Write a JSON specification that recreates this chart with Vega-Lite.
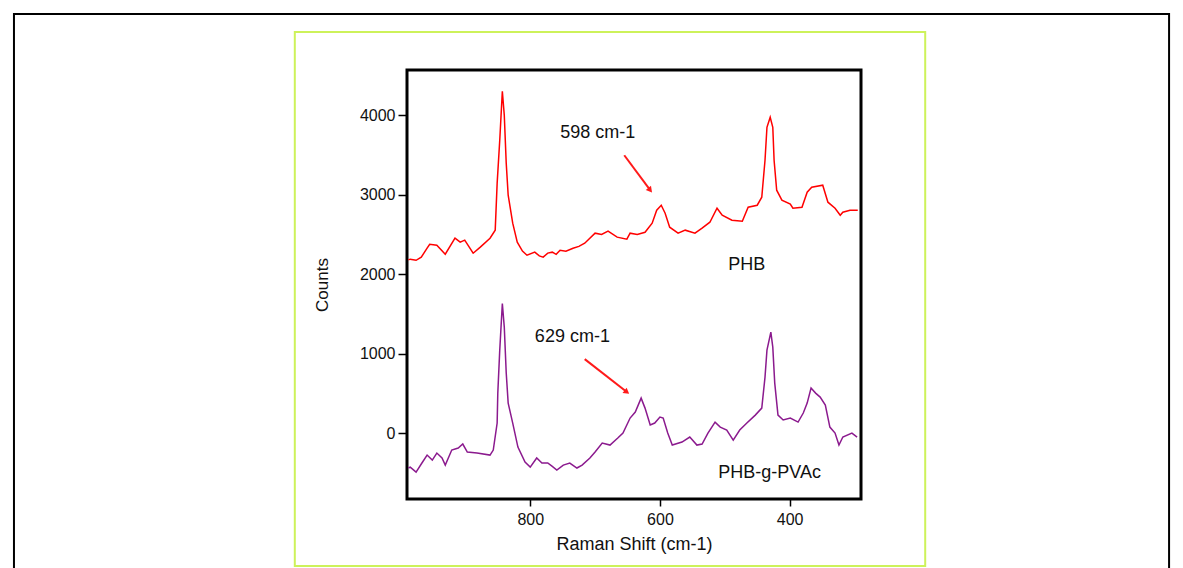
{
  "$schema": "https://vega.github.io/schema/vega-lite/v6.json",
  "autosize": {"type": "none"},
  "width": 454,
  "height": 429,
  "padding": {"left": 407, "top": 70, "right": 322, "bottom": 69},
  "background": "white",
  "config": {
    "view": {"stroke": "#000000", "strokeWidth": 3},
    "font": "Liberation Sans"
  },
  "datasets": {
    "spectra": [
      {"sample": "PHB", "shift": 988, "counts": 2180},
      {"sample": "PHB", "shift": 985, "counts": 2189},
      {"sample": "PHB", "shift": 976, "counts": 2175},
      {"sample": "PHB", "shift": 968, "counts": 2214},
      {"sample": "PHB", "shift": 959, "counts": 2327},
      {"sample": "PHB", "shift": 955, "counts": 2377},
      {"sample": "PHB", "shift": 944, "counts": 2365},
      {"sample": "PHB", "shift": 931, "counts": 2252},
      {"sample": "PHB", "shift": 916, "counts": 2453},
      {"sample": "PHB", "shift": 908, "counts": 2403},
      {"sample": "PHB", "shift": 901, "counts": 2428},
      {"sample": "PHB", "shift": 888, "counts": 2264},
      {"sample": "PHB", "shift": 877, "counts": 2340},
      {"sample": "PHB", "shift": 862, "counts": 2453},
      {"sample": "PHB", "shift": 854, "counts": 2554},
      {"sample": "PHB", "shift": 851, "counts": 3145},
      {"sample": "PHB", "shift": 847, "counts": 3686},
      {"sample": "PHB", "shift": 843, "counts": 4302},
      {"sample": "PHB", "shift": 840, "counts": 4000},
      {"sample": "PHB", "shift": 837, "counts": 3396},
      {"sample": "PHB", "shift": 834, "counts": 2994},
      {"sample": "PHB", "shift": 827, "counts": 2642},
      {"sample": "PHB", "shift": 820, "counts": 2403},
      {"sample": "PHB", "shift": 812, "counts": 2290},
      {"sample": "PHB", "shift": 805, "counts": 2239},
      {"sample": "PHB", "shift": 793, "counts": 2277},
      {"sample": "PHB", "shift": 786, "counts": 2230},
      {"sample": "PHB", "shift": 780, "counts": 2214},
      {"sample": "PHB", "shift": 773, "counts": 2265},
      {"sample": "PHB", "shift": 766, "counts": 2277},
      {"sample": "PHB", "shift": 760, "counts": 2250},
      {"sample": "PHB", "shift": 754, "counts": 2302},
      {"sample": "PHB", "shift": 745, "counts": 2290},
      {"sample": "PHB", "shift": 734, "counts": 2327},
      {"sample": "PHB", "shift": 725, "counts": 2350},
      {"sample": "PHB", "shift": 716, "counts": 2390},
      {"sample": "PHB", "shift": 700, "counts": 2516},
      {"sample": "PHB", "shift": 690, "counts": 2500},
      {"sample": "PHB", "shift": 680, "counts": 2541},
      {"sample": "PHB", "shift": 666, "counts": 2466},
      {"sample": "PHB", "shift": 651, "counts": 2440},
      {"sample": "PHB", "shift": 646, "counts": 2516},
      {"sample": "PHB", "shift": 635, "counts": 2500},
      {"sample": "PHB", "shift": 623, "counts": 2528},
      {"sample": "PHB", "shift": 612, "counts": 2642},
      {"sample": "PHB", "shift": 605, "counts": 2805},
      {"sample": "PHB", "shift": 598, "counts": 2868},
      {"sample": "PHB", "shift": 592, "counts": 2767},
      {"sample": "PHB", "shift": 585, "counts": 2591},
      {"sample": "PHB", "shift": 572, "counts": 2516},
      {"sample": "PHB", "shift": 561, "counts": 2554},
      {"sample": "PHB", "shift": 546, "counts": 2516},
      {"sample": "PHB", "shift": 535, "counts": 2579},
      {"sample": "PHB", "shift": 523, "counts": 2654},
      {"sample": "PHB", "shift": 512, "counts": 2830},
      {"sample": "PHB", "shift": 504, "counts": 2742},
      {"sample": "PHB", "shift": 489, "counts": 2679},
      {"sample": "PHB", "shift": 473, "counts": 2667},
      {"sample": "PHB", "shift": 464, "counts": 2843},
      {"sample": "PHB", "shift": 450, "counts": 2868},
      {"sample": "PHB", "shift": 443, "counts": 2969},
      {"sample": "PHB", "shift": 438, "counts": 3434},
      {"sample": "PHB", "shift": 435, "counts": 3849},
      {"sample": "PHB", "shift": 430, "counts": 3975},
      {"sample": "PHB", "shift": 426, "counts": 3849},
      {"sample": "PHB", "shift": 424, "counts": 3434},
      {"sample": "PHB", "shift": 420, "counts": 3057},
      {"sample": "PHB", "shift": 412, "counts": 2931},
      {"sample": "PHB", "shift": 399, "counts": 2881},
      {"sample": "PHB", "shift": 395, "counts": 2830},
      {"sample": "PHB", "shift": 381, "counts": 2843},
      {"sample": "PHB", "shift": 373, "counts": 3032},
      {"sample": "PHB", "shift": 366, "counts": 3094},
      {"sample": "PHB", "shift": 349, "counts": 3120},
      {"sample": "PHB", "shift": 341, "counts": 2906},
      {"sample": "PHB", "shift": 330, "counts": 2830},
      {"sample": "PHB", "shift": 322, "counts": 2742},
      {"sample": "PHB", "shift": 318, "counts": 2780},
      {"sample": "PHB", "shift": 307, "counts": 2805},
      {"sample": "PHB", "shift": 295, "counts": 2805},
      {"sample": "PHB-g-PVAc", "shift": 988, "counts": -440},
      {"sample": "PHB-g-PVAc", "shift": 985, "counts": -428},
      {"sample": "PHB-g-PVAc", "shift": 976, "counts": -491},
      {"sample": "PHB-g-PVAc", "shift": 967, "counts": -377},
      {"sample": "PHB-g-PVAc", "shift": 959, "counts": -277},
      {"sample": "PHB-g-PVAc", "shift": 951, "counts": -340},
      {"sample": "PHB-g-PVAc", "shift": 944, "counts": -252},
      {"sample": "PHB-g-PVAc", "shift": 936, "counts": -314},
      {"sample": "PHB-g-PVAc", "shift": 931, "counts": -403},
      {"sample": "PHB-g-PVAc", "shift": 921, "counts": -214},
      {"sample": "PHB-g-PVAc", "shift": 911, "counts": -189},
      {"sample": "PHB-g-PVAc", "shift": 904, "counts": -138},
      {"sample": "PHB-g-PVAc", "shift": 897, "counts": -239},
      {"sample": "PHB-g-PVAc", "shift": 882, "counts": -252},
      {"sample": "PHB-g-PVAc", "shift": 862, "counts": -277},
      {"sample": "PHB-g-PVAc", "shift": 857, "counts": -214},
      {"sample": "PHB-g-PVAc", "shift": 851, "counts": 126},
      {"sample": "PHB-g-PVAc", "shift": 850, "counts": 503},
      {"sample": "PHB-g-PVAc", "shift": 847, "counts": 1044},
      {"sample": "PHB-g-PVAc", "shift": 843, "counts": 1630},
      {"sample": "PHB-g-PVAc", "shift": 840, "counts": 1333},
      {"sample": "PHB-g-PVAc", "shift": 837, "counts": 755},
      {"sample": "PHB-g-PVAc", "shift": 834, "counts": 377},
      {"sample": "PHB-g-PVAc", "shift": 827, "counts": 126},
      {"sample": "PHB-g-PVAc", "shift": 819, "counts": -176},
      {"sample": "PHB-g-PVAc", "shift": 808, "counts": -365},
      {"sample": "PHB-g-PVAc", "shift": 800, "counts": -428},
      {"sample": "PHB-g-PVAc", "shift": 790, "counts": -314},
      {"sample": "PHB-g-PVAc", "shift": 782, "counts": -377},
      {"sample": "PHB-g-PVAc", "shift": 773, "counts": -377},
      {"sample": "PHB-g-PVAc", "shift": 766, "counts": -420},
      {"sample": "PHB-g-PVAc", "shift": 759, "counts": -465},
      {"sample": "PHB-g-PVAc", "shift": 749, "counts": -403},
      {"sample": "PHB-g-PVAc", "shift": 739, "counts": -377},
      {"sample": "PHB-g-PVAc", "shift": 728, "counts": -440},
      {"sample": "PHB-g-PVAc", "shift": 720, "counts": -403},
      {"sample": "PHB-g-PVAc", "shift": 708, "counts": -314},
      {"sample": "PHB-g-PVAc", "shift": 700, "counts": -239},
      {"sample": "PHB-g-PVAc", "shift": 689, "counts": -126},
      {"sample": "PHB-g-PVAc", "shift": 677, "counts": -151},
      {"sample": "PHB-g-PVAc", "shift": 665, "counts": -63},
      {"sample": "PHB-g-PVAc", "shift": 657, "counts": 0},
      {"sample": "PHB-g-PVAc", "shift": 646, "counts": 189},
      {"sample": "PHB-g-PVAc", "shift": 638, "counts": 264},
      {"sample": "PHB-g-PVAc", "shift": 629, "counts": 440},
      {"sample": "PHB-g-PVAc", "shift": 623, "counts": 314},
      {"sample": "PHB-g-PVAc", "shift": 615, "counts": 101},
      {"sample": "PHB-g-PVAc", "shift": 608, "counts": 126},
      {"sample": "PHB-g-PVAc", "shift": 600, "counts": 201},
      {"sample": "PHB-g-PVAc", "shift": 595, "counts": 189},
      {"sample": "PHB-g-PVAc", "shift": 588, "counts": 0},
      {"sample": "PHB-g-PVAc", "shift": 581, "counts": -151},
      {"sample": "PHB-g-PVAc", "shift": 566, "counts": -113},
      {"sample": "PHB-g-PVAc", "shift": 554, "counts": -50},
      {"sample": "PHB-g-PVAc", "shift": 543, "counts": -151},
      {"sample": "PHB-g-PVAc", "shift": 535, "counts": -138},
      {"sample": "PHB-g-PVAc", "shift": 526, "counts": 0},
      {"sample": "PHB-g-PVAc", "shift": 515, "counts": 138},
      {"sample": "PHB-g-PVAc", "shift": 507, "counts": 75},
      {"sample": "PHB-g-PVAc", "shift": 497, "counts": 38},
      {"sample": "PHB-g-PVAc", "shift": 487, "counts": -88},
      {"sample": "PHB-g-PVAc", "shift": 477, "counts": 38},
      {"sample": "PHB-g-PVAc", "shift": 466, "counts": 126},
      {"sample": "PHB-g-PVAc", "shift": 453, "counts": 226},
      {"sample": "PHB-g-PVAc", "shift": 443, "counts": 314},
      {"sample": "PHB-g-PVAc", "shift": 438, "counts": 704},
      {"sample": "PHB-g-PVAc", "shift": 435, "counts": 1044},
      {"sample": "PHB-g-PVAc", "shift": 429, "counts": 1270},
      {"sample": "PHB-g-PVAc", "shift": 426, "counts": 1082},
      {"sample": "PHB-g-PVAc", "shift": 423, "counts": 629},
      {"sample": "PHB-g-PVAc", "shift": 418, "counts": 226},
      {"sample": "PHB-g-PVAc", "shift": 410, "counts": 164},
      {"sample": "PHB-g-PVAc", "shift": 399, "counts": 189},
      {"sample": "PHB-g-PVAc", "shift": 387, "counts": 138},
      {"sample": "PHB-g-PVAc", "shift": 379, "counts": 252},
      {"sample": "PHB-g-PVAc", "shift": 373, "counts": 377},
      {"sample": "PHB-g-PVAc", "shift": 367, "counts": 566},
      {"sample": "PHB-g-PVAc", "shift": 360, "counts": 503},
      {"sample": "PHB-g-PVAc", "shift": 353, "counts": 453},
      {"sample": "PHB-g-PVAc", "shift": 345, "counts": 352},
      {"sample": "PHB-g-PVAc", "shift": 338, "counts": 75},
      {"sample": "PHB-g-PVAc", "shift": 330, "counts": 0},
      {"sample": "PHB-g-PVAc", "shift": 324, "counts": -151},
      {"sample": "PHB-g-PVAc", "shift": 318, "counts": -50},
      {"sample": "PHB-g-PVAc", "shift": 304, "counts": 0},
      {"sample": "PHB-g-PVAc", "shift": 296, "counts": -50}
    ],
    "arrows": [
      {"arrow": "598", "part": "tail", "shift": 655, "counts": 3497},
      {"arrow": "598", "part": "head", "shift": 615, "counts": 3057},
      {"arrow": "629", "part": "tail", "shift": 716, "counts": 931},
      {"arrow": "629", "part": "head", "shift": 651, "counts": 516}
    ],
    "labels": [
      {"label": "598 cm-1", "shift": 696, "counts": 3714},
      {"label": "629 cm-1", "shift": 735, "counts": 1146},
      {"label": "PHB", "shift": 466, "counts": 2053},
      {"label": "PHB-g-PVAc", "shift": 431, "counts": -565}
    ],
    "frame": [{"name": "frame"}]
  },
  "layer": [
    {
      "data": {"name": "frame"},
      "mark": {"type": "rect", "filled": false, "stroke": "#000000", "strokeWidth": 2, "clip": false},
      "encoding": {
        "x": {"datum": 1596, "type": "quantitative", "scale": {"domain": [290, 990], "reverse": true, "nice": false, "zero": false}},
        "x2": {"datum": -185},
        "y": {"datum": 5275, "type": "quantitative", "scale": {"domain": [-830, 4570], "nice": false, "zero": false}},
        "y2": {"datum": -2600}
      }
    },
    {
      "data": {"name": "frame"},
      "mark": {"type": "rect", "filled": false, "stroke": "#cdf25a", "strokeWidth": 2, "clip": false},
      "encoding": {
        "x": {"datum": 1163, "type": "quantitative"},
        "x2": {"datum": 191},
        "y": {"datum": 5048, "type": "quantitative"},
        "y2": {"datum": -1673}
      }
    },
    {
      "data": {"name": "spectra"},
      "mark": {"type": "line", "strokeWidth": 1.5, "interpolate": "linear"},
      "encoding": {
        "x": {
          "field": "shift", "type": "quantitative",
          "scale": {"domain": [290, 990], "reverse": true, "nice": false, "zero": false},
          "axis": {
            "values": [800, 600, 400], "format": "d", "grid": false, "domain": false,
            "tickColor": "#000000", "tickSize": 7, "tickWidth": 1.5,
            "labelFont": "Liberation Sans", "labelFontSize": 16, "labelColor": "#111111", "labelPadding": 5,
            "title": "Raman Shift (cm-1)", "titleFont": "Liberation Sans", "titleFontSize": 18,
            "titleFontWeight": "normal", "titleColor": "#111111", "titlePadding": 8
          }
        },
        "y": {
          "field": "counts", "type": "quantitative",
          "scale": {"domain": [-830, 4570], "nice": false, "zero": false},
          "axis": {
            "values": [0, 1000, 2000, 3000, 4000], "format": "d", "grid": false, "domain": false,
            "tickColor": "#000000", "tickSize": 9, "tickWidth": 1.5,
            "labelFont": "Liberation Sans", "labelFontSize": 16, "labelColor": "#111111", "labelPadding": 3,
            "title": "Counts", "titleFont": "Liberation Sans", "titleFontSize": 17,
            "titleFontWeight": "normal", "titleColor": "#111111", "titlePadding": 28
          }
        },
        "color": {
          "field": "sample", "type": "nominal",
          "scale": {"domain": ["PHB", "PHB-g-PVAc"], "range": ["#ff0000", "#8b1a8e"]},
          "legend": null
        },
        "detail": {"field": "sample"}
      }
    },
    {
      "data": {"name": "arrows"},
      "mark": {"type": "line", "color": "#ff1a1a", "strokeWidth": 2},
      "encoding": {
        "x": {"field": "shift", "type": "quantitative"},
        "y": {"field": "counts", "type": "quantitative"},
        "detail": {"field": "arrow"}
      }
    },
    {
      "data": {"name": "arrows"},
      "transform": [{"filter": "datum.part === 'head' && datum.arrow === '598'"}],
      "mark": {"type": "point", "shape": "triangle-right", "filled": true, "color": "#ff1a1a", "size": 45, "angle": 51, "opacity": 1},
      "encoding": {
        "x": {"field": "shift", "type": "quantitative"},
        "y": {"field": "counts", "type": "quantitative"}
      }
    },
    {
      "data": {"name": "arrows"},
      "transform": [{"filter": "datum.part === 'head' && datum.arrow === '629'"}],
      "mark": {"type": "point", "shape": "triangle-right", "filled": true, "color": "#ff1a1a", "size": 45, "angle": 38, "opacity": 1},
      "encoding": {
        "x": {"field": "shift", "type": "quantitative"},
        "y": {"field": "counts", "type": "quantitative"}
      }
    },
    {
      "data": {"name": "labels"},
      "mark": {"type": "text", "font": "Liberation Sans", "fontSize": 18, "color": "#111111", "align": "center", "baseline": "alphabetic"},
      "encoding": {
        "x": {"field": "shift", "type": "quantitative"},
        "y": {"field": "counts", "type": "quantitative"},
        "text": {"field": "label"}
      }
    }
  ]
}
